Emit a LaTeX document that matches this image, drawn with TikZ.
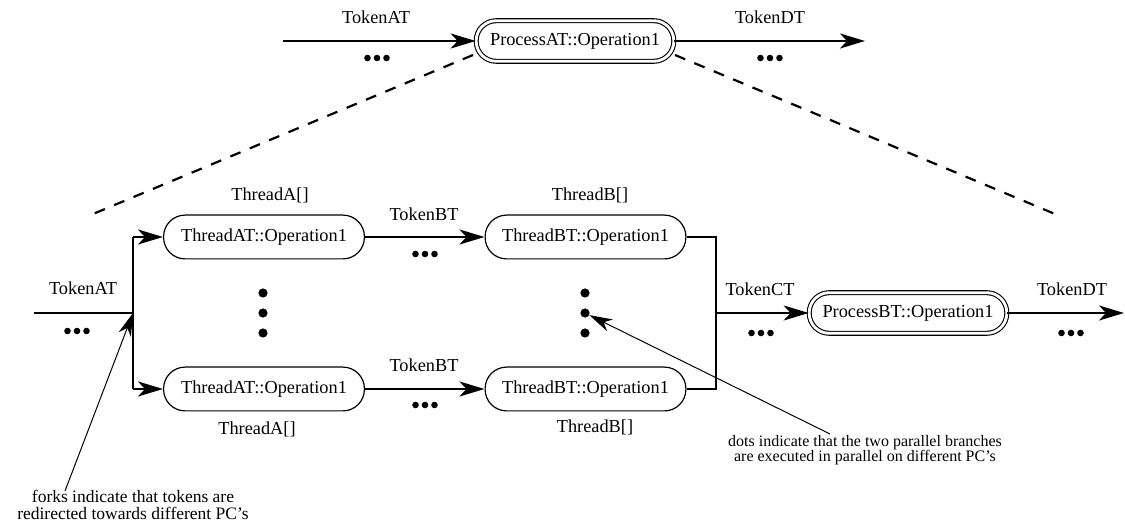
\documentclass[tikz,border=0pt]{standalone}
\usepackage{fontspec}
\setmainfont{Liberation Serif}
\usetikzlibrary{arrows.meta}
\begin{document}
\begin{tikzpicture}[x=1pt,y=-1pt,
  font=\fontsize{18.3}{20}\selectfont,
  flow/.style={line width=2.4pt,-{Stealth[length=25pt,width=15pt,inset=7pt]}},
  wire/.style={line width=2.4pt},
  pointer/.style={line width=1pt,-{Stealth[length=23pt,width=13pt,inset=7pt]}},
  dashlink/.style={line width=2.2pt,dash pattern=on 11pt off 10pt},
  thread/.style={draw,line width=1.2pt,rounded corners=21.5pt,minimum width=200.8pt,minimum height=43.8pt,inner sep=0pt},
  proc/.style={draw,double,double distance=2.8pt,line width=1.1pt,rounded corners=20pt,minimum width=197.6pt,minimum height=40.6pt,inner sep=0pt},
  lbl/.style={inner sep=0pt},
  note/.style={inner sep=0pt,align=center},
  smalldot/.style={fill,circle,inner sep=0pt,minimum size=6.6pt},
  bigdot/.style={fill,circle,inner sep=0pt,minimum size=9.2pt}]
\useasboundingbox (0,0) rectangle (1125,526);

% ---- top: the process as a whole ----
\coordinate (inA) at (283,41);
\node[proc] (pa) at (575,41) {ProcessAT::Operation1};
\coordinate (outA) at (865,41);
\draw[flow] (inA) -- (pa);
\draw[flow] (pa) -- (outA);
\node[lbl] (tokA) at (376,17) {TokenAT};
\node[lbl] (tokD) at (770,17) {TokenDT};
\foreach \n/\x/\y in {dA/377/58,dD/770/58,dAT/77/331,dB1/425/254,dB2/425/405,dC/761/333,dD2/1071/333}{
  \node[smalldot] (\n m) at (\x,\y) {};
  \node[smalldot] (\n l) at (\x-9.5,\y) {};
  \node[smalldot] (\n r) at (\x+9.5,\y) {};
}

% ---- dashed zoom lines ----
\coordinate (zl0) at (473,55);
\coordinate (zl1) at (93,214);
\coordinate (zr0) at (675,55);
\coordinate (zr1) at (1055,214);
\draw[dashlink] (zl0) -- (zl1);
\draw[dashlink] (zr0) -- (zr1);

% ---- expanded view ----
\coordinate (in) at (34,313);
\coordinate (fork) at (133,313);
\coordinate (forkT) at (133,237);
\coordinate (forkB) at (133,389);
\coordinate (joinT) at (716,237);
\coordinate (joinB) at (716,389);
\coordinate (join) at (716,313);
\coordinate (out) at (1124,313);

\node[thread] (ta1) at (264,237) {ThreadAT::Operation1};
\node[thread] (ta2) at (264,389) {ThreadAT::Operation1};
\node[thread] (tb1) at (585.5,237) {ThreadBT::Operation1};
\node[thread] (tb2) at (585.5,389) {ThreadBT::Operation1};
\node[proc] (pb) at (908,313) {ProcessBT::Operation1};

\draw[wire] (in) -- (fork);
\draw[wire] (forkT) -- (forkB);
\draw[flow] (forkT) -- (ta1);
\draw[flow] (forkB) -- (ta2);
\draw[flow] (ta1) -- (tb1);
\draw[flow] (ta2) -- (tb2);
\draw[wire] (tb1.east) -- (joinT) -- (joinB) -- (tb2.east);
\draw[flow] (join) -- (pb);
\draw[flow] (pb) -- (out);

\node[lbl] (lAT) at (83,288) {TokenAT};
\node[lbl] (lTA1) at (270,195) {ThreadA[]};
\node[lbl] (lTA2) at (257,429) {ThreadA[]};
\node[lbl] (lBT1) at (424,214) {TokenBT};
\node[lbl] (lBT2) at (424,365) {TokenBT};
\node[lbl] (lTB1) at (590,195) {ThreadB[]};
\node[lbl] (lTB2) at (595,427) {ThreadB[]};
\node[lbl] (lCT) at (760,289) {TokenCT};
\node[lbl] (lDT) at (1072,289) {TokenDT};

\foreach \n/\x in {vl/263,vr/585}{
  \node[bigdot] (\n1) at (\x,293) {};
  \node[bigdot] (\n2) at (\x,313) {};
  \node[bigdot] (\n3) at (\x,333) {};
}

% ---- annotations ----
\node[note,font=\fontsize{17.5}{16.5}\selectfont] (nfork) at (133,505)
  {forks indicate that tokens are\\redirected towards different PC’s};
\coordinate (nforkp) at (65,491);
\draw[pointer] (nforkp) -- (fork);

\node[note,font=\fontsize{16}{14.5}\selectfont] (ndots) at (865,450)
  {dots indicate that the two parallel branches\\are executed in parallel on different PC’s};
\coordinate (ndotsp) at (830,434);
\draw[pointer] (ndotsp) -- (vr2);
\end{tikzpicture}
\end{document}
